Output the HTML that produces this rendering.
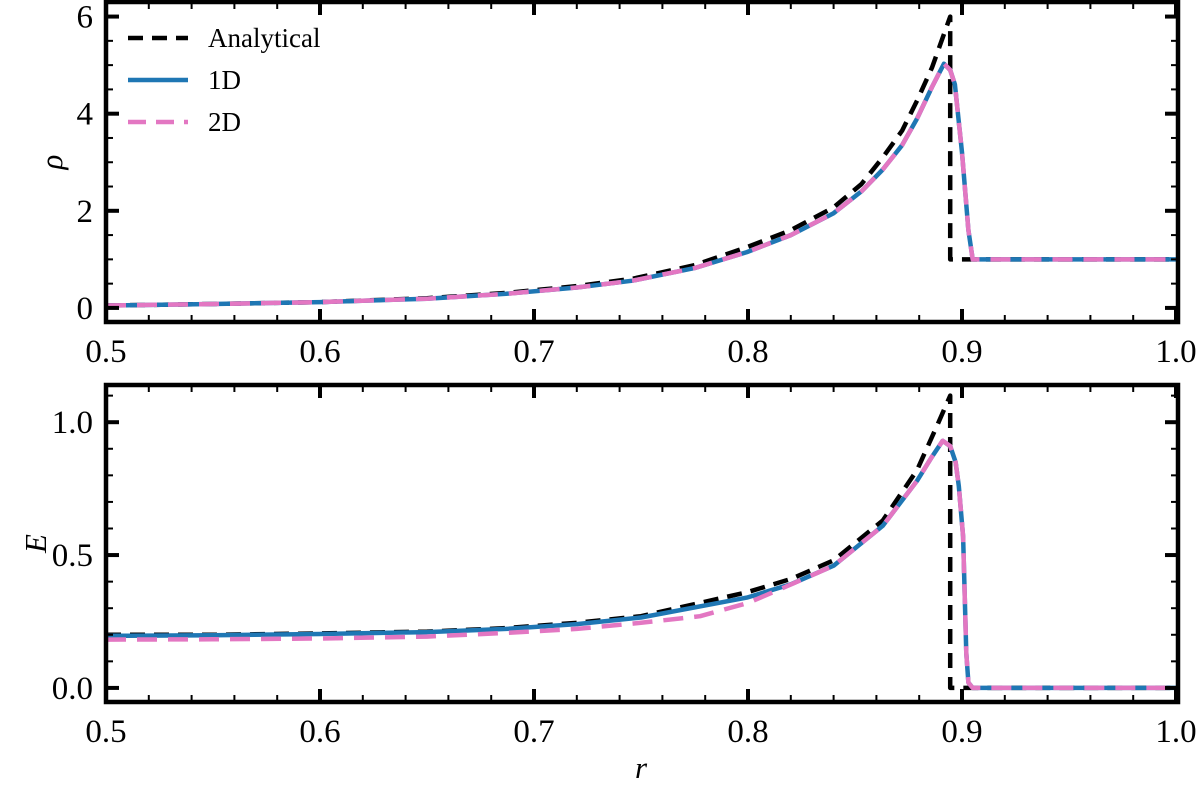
<!DOCTYPE html>
<html><head><meta charset="utf-8"><style>
html,body{margin:0;padding:0;background:#fff;}
svg text{font-family:"Liberation Serif",serif;fill:#000;}
</style></head><body>
<svg id="fig" width="1200" height="788" viewBox="0 0 1200 788" xmlns="http://www.w3.org/2000/svg"></svg>
<script>
const xTickLabels = ["0.5","0.6","0.7","0.8","0.9","1.0"];
const xTickValues = [0.5,0.6,0.7,0.8,0.9,1.0];
const rhoTickValues = [0,2,4,6];
const rhoTickLabels = ["0","2","4","6"];
const eTickValues = [0,0.5,1.0];
const eTickLabels = ["0.0","0.5","1.0"];

const rhoAnaR = [0.5,0.55,0.6,0.65,0.687,0.72,0.746,0.775,0.7995,0.82,0.84,0.853,0.863,0.872,0.879,0.886,0.8945,0.8945,0.9,1.0];
const rhoAnaV = [0.05,0.08,0.12,0.2,0.31,0.45,0.6,0.88,1.25,1.6,2.07,2.55,3.1,3.65,4.27,4.95,6.0,1.0,1.0,1.0];
const rho1DR = [0.5,0.55,0.6,0.65,0.687,0.72,0.746,0.775,0.7995,0.82,0.84,0.853,0.863,0.872,0.879,0.886,0.8916,0.8945,0.8967,0.9,0.903,0.905,0.91,1.0];
const rho1DV = [0.05,0.08,0.12,0.19,0.29,0.42,0.56,0.82,1.15,1.5,1.95,2.4,2.85,3.35,3.9,4.55,5.03,4.9,4.6,3.2,1.6,1.0,1.0,1.0];
const rho2DR = rho1DR.slice();
const rho2DV = rho1DV.slice();

const eAnaR = [0.5,0.55,0.6,0.65,0.687,0.72,0.75,0.7995,0.82,0.84,0.863,0.879,0.8885,0.8945,0.8945,0.9,1.0];
const eAnaV = [0.2,0.2,0.205,0.212,0.225,0.245,0.27,0.36,0.41,0.48,0.63,0.82,0.99,1.1,0.0,0.0,0.0];
const e1DR = [0.5,0.55,0.6,0.65,0.687,0.72,0.75,0.7995,0.82,0.84,0.863,0.879,0.886,0.891,0.8945,0.897,0.8985,0.9005,0.902,0.903,0.905,0.91,1.0];
const e1DV = [0.196,0.198,0.203,0.21,0.222,0.24,0.265,0.34,0.39,0.46,0.61,0.78,0.87,0.93,0.91,0.85,0.76,0.57,0.13,0.02,0.0,0.0,0.0];
const e2DR = [0.5,0.55,0.6,0.65,0.687,0.72,0.75,0.7776,0.8,0.816,0.84,0.863,0.879,0.886,0.891,0.8945,0.897,0.8985,0.9005,0.902,0.903,0.905,0.91,1.0];
const e2DV = [0.182,0.183,0.186,0.193,0.207,0.222,0.245,0.27,0.32,0.375,0.46,0.61,0.78,0.87,0.93,0.91,0.85,0.76,0.57,0.13,0.02,0.0,0.0,0.0];

const NS="http://www.w3.org/2000/svg";
const svg=document.getElementById('fig');
function mk(tag,attrs,parent){const e=document.createElementNS(NS,tag);for(const k in attrs)e.setAttribute(k,attrs[k]);(parent||svg).appendChild(e);return e;}
const X0=106,X1=1176;
function xs(v){return X0+(v-0.5)/0.5*(X1-X0);}

function panel(name,top,bottom,ymin,ymax,yTickV,yTickL,minorStep,ylabel,ylabX,series){
  const ys=v=>bottom-(v-ymin)/(ymax-ymin)*(bottom-top);
  const g=mk('g',{});
  
  
  const clipId='clip-'+name;
  const cp=mk('clipPath',{id:clipId},g);
  mk('rect',{x:X0,y:top,width:X1+2-X0,height:bottom-top},cp);
  const lg=mk('g',{'clip-path':'url(#'+clipId+')'},g);
  series.forEach(s=>{
    const d=s.r.map((r,i)=>(i?'L':'M')+xs(r).toFixed(1)+','+ys(s.v[i]).toFixed(1)).join(' ');
    const p=mk('path',{d:d,fill:'none',stroke:s.color,'stroke-width':4.5,'stroke-linejoin':'round'},lg);
    if(s.dash)p.setAttribute('stroke-dasharray',s.dash);
    
    
  });
  for(let v=0.5;v<=1.0001;v+=0.02){
    const x=xs(v);
    mk('line',{x1:x,x2:x,y1:bottom,y2:bottom-7,stroke:'#000','stroke-width':2},g);
    mk('line',{x1:x,x2:x,y1:top,y2:top+7,stroke:'#000','stroke-width':2},g);
  }
  xTickValues.forEach((v,i)=>{
    const x=xs(v);
    mk('line',{x1:x,x2:x,y1:bottom,y2:bottom-13,stroke:'#000','stroke-width':4},g);
    mk('line',{x1:x,x2:x,y1:top,y2:top+13,stroke:'#000','stroke-width':4},g);
    const t=mk('text',{x:x,y:bottom+40,'font-size':33,'text-anchor':'middle'},g);
    t.textContent=xTickLabels[i];
    
    
  });
  for(let v=Math.ceil(ymin/minorStep)*minorStep;v<=ymax;v+=minorStep){
    const y=ys(v);
    mk('line',{x1:X0,x2:X0+7,y1:y,y2:y,stroke:'#000','stroke-width':2},g);
    mk('line',{x1:X1+2,x2:X1-5,y1:y,y2:y,stroke:'#000','stroke-width':2},g);
  }
  yTickV.forEach((v,i)=>{
    const y=ys(v);
    mk('line',{x1:X0,x2:X0+13,y1:y,y2:y,stroke:'#000','stroke-width':4},g);
    mk('line',{x1:X1+2,x2:X1-11,y1:y,y2:y,stroke:'#000','stroke-width':4},g);
    const t=mk('text',{x:93,y:y+11,'font-size':33,'text-anchor':'end'},g);
    t.textContent=yTickL[i];
    
    
  });
  const fr=mk('rect',{x:X0,y:top,width:X1+2-X0,height:bottom-top,fill:'none',stroke:'#000','stroke-width':4.5},g);
  
  
  const yl=mk('text',{x:ylabX,y:(top+bottom)/2,'font-size':31,'font-style':'italic','text-anchor':'middle',transform:'rotate(-90 '+ylabX+' '+(top+bottom)/2+')'},g);
  yl.textContent=ylabel;
  
  
}

panel('density',2,322,-0.29,6.3,rhoTickValues,rhoTickLabels,0.5,'ρ',62,[
  {id:'analytical',r:rhoAnaR,v:rhoAnaV,color:'#000',dash:'15 9'},
  {id:'1d',r:rho1DR,v:rho1DV,color:'#1f77b4'},
  {id:'2d',r:rho2DR,v:rho2DV,color:'#e377c2',dash:'20 11'}
]);
panel('energy',385,702,-0.053,1.14,eTickValues,eTickLabels,0.1,'E',46,[
  {id:'analytical',r:eAnaR,v:eAnaV,color:'#000',dash:'15 9'},
  {id:'1d',r:e1DR,v:e1DV,color:'#1f77b4'},
  {id:'2d',r:e2DR,v:e2DV,color:'#e377c2',dash:'20 11'}
]);

const xl=mk('text',{x:641,y:778,'font-size':31,'font-style':'italic','text-anchor':'middle'});
xl.textContent='r';



const leg=mk('g',{});


const entries=[['Analytical','#000','15 9',38],['1D','#1f77b4',null,80],['2D','#e377c2','18 10',122]];
entries.forEach(e=>{
  const gg=mk('g',{},leg);
  
  
  const l=mk('line',{x1:128,x2:188,y1:e[3],y2:e[3],stroke:e[1],'stroke-width':4.5},gg);
  if(e[2])l.setAttribute('stroke-dasharray',e[2]);
  const t=mk('text',{x:208,y:e[3]+9,'font-size':27},gg);
  t.textContent=e[0];
});
</script>
</body></html>
